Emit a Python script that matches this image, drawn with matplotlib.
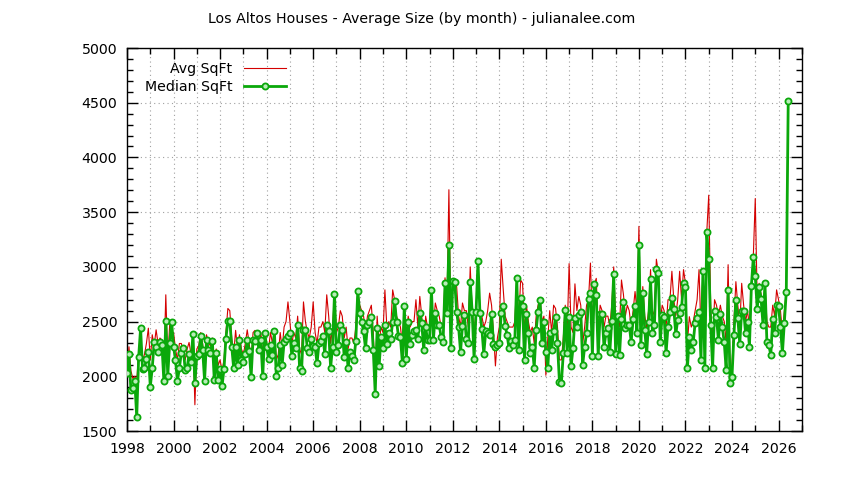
import numpy as np
import matplotlib
matplotlib.use("Agg")
import matplotlib.pyplot as plt
from matplotlib.ticker import MultipleLocator

title = "Los Altos Houses - Average Size (by month) - julianalee.com"
start_year = 1998
series_names = ["Avg SqFt", "Median SqFt"]

median_sqft = [
    2030, 2200, 1875, 1890, 1960, 1625, 2175, 2440, 2065, 2075,
    2155, 2220, 1905, 2075, 2310, 2270, 2225, 2310, 2290, 1955,
    2510, 2005, 2300, 2500, 2270, 2150, 1955, 2075, 2215, 2255,
    2060, 2075, 2205, 2135, 2385, 1935, 2190, 2205, 2365, 2240,
    1960, 2330, 2240, 2210, 2325, 1965, 2210, 1965, 2065, 1910,
    2065, 2345, 2505, 2510, 2270, 2075, 2270, 2105, 2330, 2150,
    2135, 2205, 2330, 2235, 1995, 2335, 2325, 2400, 2240, 2330,
    2000, 2400, 2270, 2155, 2285, 2195, 2410, 2000,
    2075, 2285, 2105, 2310, 2345, 2370, 2395, 2185, 2300, 2255,
    2470, 2075, 2045, 2425, 2420, 2255, 2225, 2345, 2280, 2265,
    2120, 2300, 2325, 2365, 2205, 2470, 2410, 2080, 2270, 2755,
    2225, 2285, 2470, 2425, 2180, 2310, 2075, 2225, 2185, 2150,
    2325, 2780, 2575, 2500, 2410, 2255, 2470, 2500, 2545, 2240,
    1840, 2440, 2090, 2355, 2255, 2470, 2295, 2395, 2345, 2500,
    2690, 2500, 2365, 2355, 2125, 2645, 2155, 2500, 2295, 2380,
    2410, 2420, 2345, 2580, 2485, 2245, 2450, 2330, 2330, 2790,
    2330, 2580, 2470, 2470, 2355, 2315, 2850,
    2575, 3200, 2255, 2875, 2865, 2590, 2450, 2225, 2460, 2560,
    2340, 2300, 2865, 2590, 2155, 2590, 3050, 2580, 2430, 2205,
    2410, 2395, 2380, 2570, 2295, 2270, 2285, 2300, 2575, 2645,
    2460, 2380, 2255, 2325, 2285, 2330, 2895, 2245, 2715, 2645,
    2145, 2570, 2400, 2210, 2270, 2080, 2425, 2590, 2700, 2300,
    2500, 2225, 2075, 2400, 2245, 2410, 2540, 2300, 1950, 1935,
    2210, 2605, 2215, 2545, 2090, 2255, 2530, 2450, 2560, 2590,
    2105, 2270, 2395, 2705, 2765, 2185, 2845, 2745, 2185, 2570,
    2570, 2265, 2395, 2440, 2225, 2510, 2935,
    2205, 2550, 2195, 2520, 2675, 2440, 2470, 2470, 2315, 2520,
    2645, 2400, 3200, 2285, 2765, 2425, 2205, 2500, 2890, 2395,
    2470, 2980, 2940, 2315, 2560, 2545, 2210, 2455, 2590, 2715,
    2615, 2385, 2515, 2575, 2630, 2855, 2820, 2075, 2355, 2245,
    2310, 2490, 2530, 2590, 2150, 2960, 2080, 3315, 3070,
    2470, 2080, 2600, 2540, 2330, 2570, 2450, 2310, 2060, 2785,
    1935, 1995, 2380, 2700, 2530, 2295, 2600, 2600, 2395, 2500,
    2270, 2825, 3090, 2915, 2615, 2820, 2705, 2470, 2850, 2315,
    2285, 2195, 2520, 2400, 2655, 2645, 2450, 2210, 2490,
    2775, 4520,
]

avg_sqft = [
    2030, 2270, 2050, 1980, 2000, 1950, 2230, 2380, 2150, 2200,
    2300, 2440, 2150, 2380, 2280, 2425, 2300, 2350, 2330, 2100,
    2745, 2150, 2470, 2350, 2400, 2250, 2150, 2300, 2300, 2230,
    2150, 2250, 2310, 2200, 2350, 1740, 2250, 2280, 2400, 2300,
    2100, 2380, 2300, 2280, 2350, 2100, 2250, 2100, 2150, 2050,
    2150, 2400, 2620, 2600, 2350, 2200, 2420, 2250, 2380, 2250,
    2200, 2300, 2425, 2300, 2150, 2400, 2420, 2350, 2300, 2400,
    2200, 2400, 2300, 2250, 2400, 2300, 2420, 2150,
    2200, 2400, 2250, 2450, 2500, 2680, 2500, 2300, 2400, 2350,
    2550, 2250, 2200, 2680, 2500, 2400, 2350, 2450, 2680, 2400,
    2300, 2450, 2450, 2500, 2400, 2745, 2550, 2300, 2450, 2755,
    2400, 2450, 2600, 2550, 2350, 2450, 2250, 2350, 2350, 2300,
    2450, 2780, 2650, 2600, 2550, 2400, 2550, 2600, 2650, 2400,
    1950, 2550, 2300, 2450, 2400, 2790, 2450, 2500, 2450, 2790,
    2700, 2550, 2500, 2450, 2300, 2650, 2350, 2550, 2450, 2500,
    2500, 2700, 2450, 2730, 2550, 2210, 2550, 2450, 2450, 2790,
    2450, 2670, 2600, 2550, 2450, 2450, 2900,
    2650, 3705, 2500, 2870, 2870, 2820, 2550, 2450, 2670, 2600,
    2600, 2450, 3000, 2600, 2400, 2600, 3050, 2600, 2550, 2450,
    2500, 2600, 2760, 2650, 2400, 2095, 2350, 2450, 3070, 2800,
    2550, 2500, 2450, 2450, 2450, 2500, 2895, 2500, 2880, 2850,
    2400, 2650, 2500, 2400, 2450, 2300, 2550, 2650, 2720, 2500,
    2550, 2010, 2350, 2600, 2400, 2650, 2620, 2450, 2150, 2150,
    2350, 2650, 2400, 3030, 2450, 2400, 2845, 2600, 2730, 2650,
    2300, 2450, 2650, 2700, 3035, 2450, 2845, 2895, 2400, 2650,
    2600, 2450, 2550, 2550, 2450, 2650, 3000,
    2500, 2550, 2450, 2880, 2750, 2550, 2650, 2600, 2450, 2600,
    2775, 2600, 3370, 2450, 2820, 2550, 2450, 2600, 2975, 2550,
    2600, 3070, 2950, 2500, 2650, 2600, 2450, 2700, 2700, 2960,
    2700, 2550, 2700, 2960, 2700, 2975, 2850, 2300, 2545, 2450,
    2500, 2600, 2700, 2975, 2400, 2975, 2300, 3320, 3655,
    2650, 2300, 2700, 2650, 2550, 2650, 2550, 2500, 2300, 3020,
    2050, 2100, 2500, 2865, 2650, 2450, 2850, 2650, 2500, 2600,
    2450, 2850, 3100, 3625, 2700, 2850, 2750, 2600, 2850, 2500,
    2450, 2450, 2650, 2550, 2790, 2700, 2600, 2400, 2600,
    2770, 4520,
]

x_ticks = list(range(1998, 2027, 2))

n = min(len(median_sqft), len(avg_sqft))
months = start_year + np.arange(n) / 12.0

plt.rcParams['font.family'] = ['DejaVu Sans']
fs = 10.2
fig = plt.figure(figsize=(8.44, 4.80), dpi=100)
ax = fig.add_axes([0.1505, 0.102, 0.7995, 0.798])

ax.plot(months, avg_sqft[:n], color='#d40000', lw=0.8, label=series_names[0], zorder=3)
ax.plot(months, median_sqft[:n], color='#0aa80a', lw=2.0, marker='o', ms=4.4,
        mfc='#b8ecb8', mec='#0aa80a', mew=1.3, label=series_names[1], zorder=4)

ax.set_xlim(1998, 2027)
ax.set_ylim(1500, 5000)
ax.set_xticks(x_ticks)
ax.xaxis.set_minor_locator(MultipleLocator(1))
ax.yaxis.set_major_locator(MultipleLocator(500))
ax.yaxis.set_minor_locator(MultipleLocator(100))

ax.tick_params(which='both', direction='in', top=True, right=True, labelsize=fs, colors='black')
ax.tick_params(which='major', length=8, width=1)
ax.tick_params(which='minor', length=4, width=1)
ax.tick_params(axis='x', pad=8)
ax.tick_params(axis='y', pad=7)

for yv in range(1500, 5001, 500):
    ax.axhline(yv, color='#a0a0a0', lw=0.8, ls=(0, (1, 3)), zorder=1)
for xv in range(1999, 2027):
    ax.axvline(xv, color='#a0a0a0', lw=0.8, ls=(0, (1, 3)), zorder=1)

for s in ax.spines.values():
    s.set_linewidth(1)
    s.set_color('black')

fig.text(0.5, 0.96, title, ha='center', va='center', fontsize=fs)

leg = ax.legend(loc='upper left', bbox_to_anchor=(0.005, 1.0), frameon=False,
                markerfirst=False, fontsize=fs, handlelength=3.0,
                handletextpad=0.8, labelspacing=0.3, borderaxespad=0.6)
for t in leg.get_texts():
    t.set_ha('right')

fig.savefig("out.png", dpi=100)
